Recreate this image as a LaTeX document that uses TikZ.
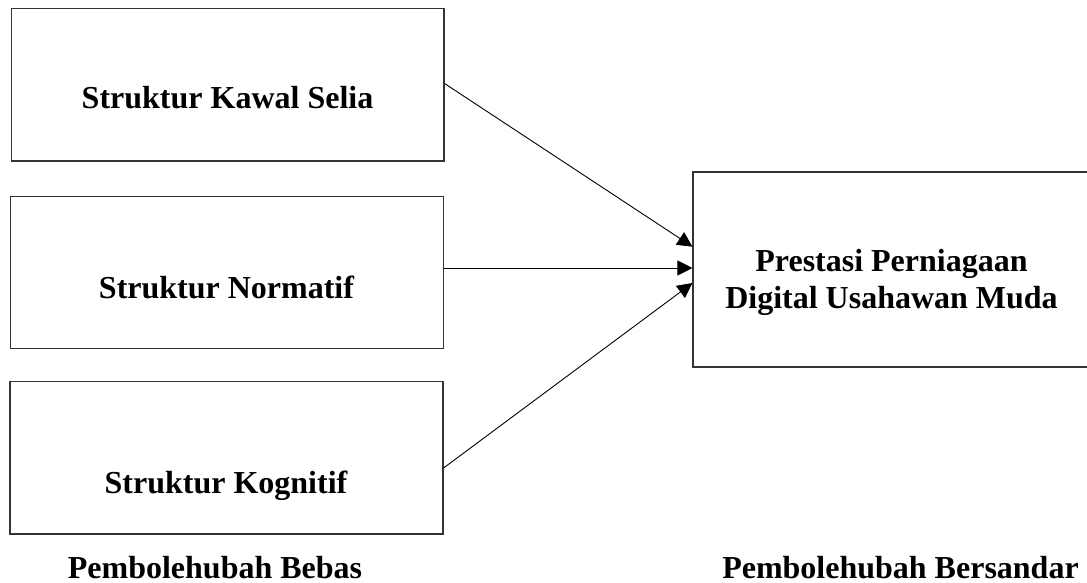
\documentclass[tikz,border=0pt]{standalone}
\usepackage{fontspec}
\setmainfont{Liberation Serif}
\usetikzlibrary{arrows.meta,calc}
\begin{document}
\begin{tikzpicture}[x=1pt,y=-1pt,
  box/.style={draw=black!80,line width=1.1pt,rectangle,inner sep=0pt},
  lbl/.style={font=\fontsize{32}{37}\selectfont\bfseries,anchor=base,inner sep=0pt,align=center},
  arr/.style={line width=0.9pt,-{Triangle[length=15pt,width=15pt]}}]
\useasboundingbox (0,0) rectangle (1087,583);
\fill[white] (0,0) rectangle (1087,583);
\node[box,minimum width=432.5pt,minimum height=152.5pt] (b1) at (227.75,84.75) {};
\node[box,minimum width=433pt,minimum height=152pt] (b2) at (227,272.5) {};
\node[box,minimum width=433pt,minimum height=152.5pt] (b3) at (226.5,457.75) {};
\node[box,minimum width=397pt,minimum height=195pt] (r) at (891.5,269.5) {};
\node[lbl] (t1) at (227.5,109) {Struktur Kawal Selia};
\node[lbl] (t2) at (226.5,298) {Struktur Normatif};
\node[lbl] (t3) at (226,493) {Struktur Kognitif};
\node[lbl] (tr) at (891.5,308) {Prestasi Perniagaan\\Digital Usahawan Muda};
\node[lbl] (l1) at (215,578) {Pembolehubah Bebas};
\node[lbl] (l2) at (900.5,578) {Pembolehubah Bersandar};
\draw[arr] ($(b1.east)+(0,-1.25)$) -- ($(r.west)+(0,-22.8)$);
\draw[arr] ($(b2.east)+(0,-4.5)$) -- ($(r.west)+(0,-1.5)$);
\draw[arr] ($(b3.east)+(0,10.25)$) -- ($(r.west)+(0,13.5)$);
\end{tikzpicture}
\end{document}
